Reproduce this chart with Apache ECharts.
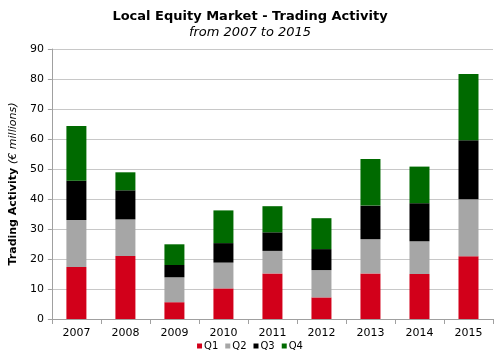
<!DOCTYPE html>
<html><head><meta charset="utf-8">
<script src="https://cdn.jsdelivr.net/npm/echarts@6/dist/echarts.min.js"></script>
<style>html,body{margin:0;padding:0;background:#fff}#c{width:500px;height:363px}</style>
</head><body><div id="c"></div>
<script>
var years = ['2007','2008','2009','2010','2011','2012','2013','2014','2015'];
var q1 = [17.3, 21.0, 5.6, 10.2, 15.2, 7.2, 15.2, 15.0, 20.9];
var q2 = [15.7, 12.2, 8.3, 8.6, 7.5, 9.1, 11.4, 10.9, 19.0];
var q3 = [13.1, 9.7, 4.1, 6.5, 6.2, 7.0, 11.2, 12.7, 19.7];
var q4 = [18.2, 6.0, 6.9, 10.9, 8.7, 10.3, 15.5, 12.2, 22.1];
var seriesNames = ['Q1','Q2','Q3','Q4'];
var colors = ['#d2001a','#a6a6a6','#000000','#006a00'];
var font = 'DejaVu Sans';
var chart = echarts.init(document.getElementById('c'), null, {renderer:'canvas'});
var data = [q1,q2,q3,q4];
chart.setOption({
  animation:false,
  textStyle:{fontFamily:font},
  title:{
    text:'Local Equity Market - Trading Activity',
    subtext:'from 2007 to 2015',
    left:'center', top:5, itemGap:3,
    textStyle:{fontFamily:font,fontSize:13,fontWeight:'bold',color:'#000'},
    subtextStyle:{fontFamily:font,fontSize:13,fontStyle:'italic',color:'#000'}
  },
  legend:{
    data:seriesNames, bottom:7, left:'center',
    itemWidth:5, itemHeight:5, itemGap:7, icon:'rect',
    textStyle:{fontFamily:font,fontSize:10,color:'#000',padding:[0,0,0,-3]}
  },
  grid:{left:46,right:7,top:49,bottom:44},
  xAxis:{
    type:'category', data:years,
    axisLine:{lineStyle:{color:'#a0a0a0'}},
    axisTick:{show:true,alignWithLabel:false,lineStyle:{color:'#a0a0a0'}},
    axisLabel:{fontFamily:font,fontSize:11,color:'#000',margin:9}
  },
  yAxis:{
    type:'value', min:0, max:90, interval:10,
    name:'{b|Trading Activity }{i|(€ millions)}',
    nameLocation:'middle', nameGap:23, nameRotate:90,
    nameTextStyle:{rich:{
      b:{fontFamily:font,fontSize:11,fontWeight:'bold',color:'#000'},
      i:{fontFamily:font,fontSize:11,fontStyle:'italic',color:'#000'}
    }},
    axisLine:{show:true,lineStyle:{color:'#a0a0a0'}},
    axisTick:{show:true,length:4,lineStyle:{color:'#a0a0a0'}},
    axisLabel:{fontFamily:font,fontSize:11,color:'#000',margin:8},
    splitLine:{lineStyle:{color:'#c8c8c8'}}
  },
  series: seriesNames.map(function(n,i){
    return {name:n,type:'bar',stack:'total',data:data[i],barWidth:20,
      itemStyle:{color:colors[i]}};
  })
});
</script></body></html>
